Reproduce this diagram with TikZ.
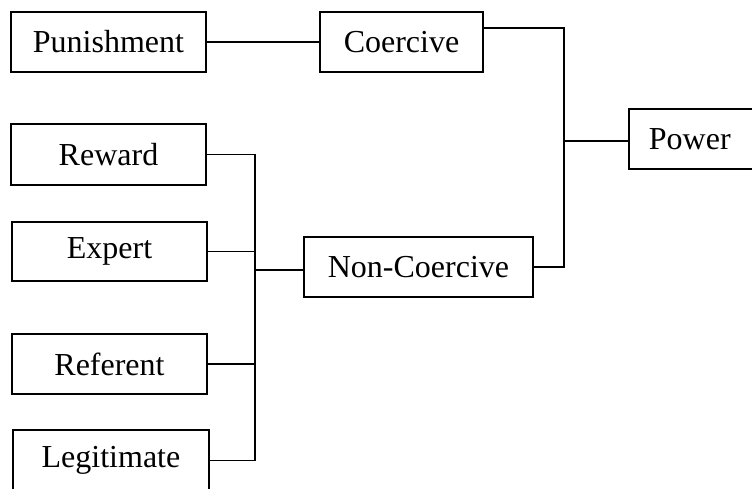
\documentclass[tikz,border=0pt]{standalone}
\usepackage{fontspec}
\setmainfont{Liberation Serif}
\usetikzlibrary{calc}
\begin{document}
\begin{tikzpicture}[x=1pt,y=-1pt,
  box/.style={draw, line width=1.8pt, inner sep=0pt, minimum height=60pt,
    font=\fontsize{32}{38}\selectfont},
  link/.style={line width=1.8pt}]
\useasboundingbox (0,0) rectangle (752,489);
\clip (0,0) rectangle (752,489);

% sources of power
\node[box, minimum width=195pt] (pun) at (108.5,42) {Punishment};
\node[box, minimum width=195pt, minimum height=61pt] (rew) at (108.5,154.5) {Reward};
\node[box, minimum width=195pt, minimum height=59pt] (exp) at (109.5,251.5) {Expert};
\node[box, minimum width=195pt] (ref) at (109.5,364) {Referent};
\node[box, minimum width=196pt, minimum height=61pt] (leg) at (111,460.5) {Legitimate};

% categories
\node[box, minimum width=163pt] (coe) at (401.5,42) {Coercive};
\node[box, minimum width=229pt] (non) at (418.5,267) {Non-Coercive};

% root
\node[box, anchor=west, inner xsep=20pt, text width=112pt, align=left] (pow) at (628,139) {Power};

% junction points
\coordinate (jl) at (255,270);
\coordinate (jr) at (564,141);

% connectors
\draw[link] (pun.east) -- (coe.west);
\draw[link] (rew.east) -| (jl);
\draw[link] (leg.east) -| (jl);
\draw[link] (exp.east) -- (exp.east -| jl);
\draw[link] (ref.east) -- (ref.east -| jl);
\draw[link] (jl) -- (jl -| non.west);
\draw[link] ($(coe.east)+(0,-14)$) -| (jr);
\draw[link] (non.east) -| (jr);
\draw[link] (jr) -- (jr -| pow.west);
\end{tikzpicture}
\end{document}
